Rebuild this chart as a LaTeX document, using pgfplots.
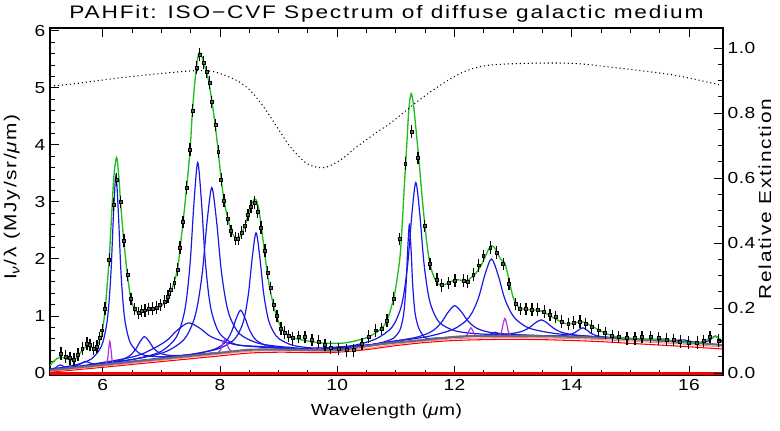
\documentclass[border=0pt]{standalone}
\usepackage{pgfplots}
\pgfplotsset{compat=1.18}
\usepackage{fontspec}
\setmainfont{Liberation Sans}[FakeStretch=1.2,LetterSpace=3]
\newfontfamily\titlefont{Liberation Sans}[FakeStretch=1.25,LetterSpace=10]
\newfontfamily\labfont{Liberation Sans}[FakeStretch=1.2,LetterSpace=10]
\definecolor{pblue}{RGB}{25,25,230}
\definecolor{pgreen}{RGB}{30,190,30}
\definecolor{ppurple}{RGB}{175,50,230}
\definecolor{pgray}{RGB}{105,105,125}
\begin{document}
\begin{tikzpicture}
\pgfplotsset{
  idl/.style={
    scale only axis, width=504.75pt, height=260.25pt,
    at={(0,0)}, anchor=south west,
    xmin=5.1, xmax=16.58,
    tick align=inside,
    major tick length=7pt, minor tick length=3.5pt,
    axis line style={line width=0.8pt}, every tick/.style={line width=0.7pt, black},
    /pgf/number format/assume math mode=true,
    tick label style={font=\fontsize{12}{14}\selectfont},
    label style={font=\fontsize{12}{14}\selectfont},
  }
}
\begin{axis}[idl,
  ymin=-0.035, ymax=6.05,
  xtick={6,8,10,12,14,16}, minor x tick num=3,
  ytick={0,1,2,3,4,5,6}, minor y tick num=4,
  xtick pos=both, ytick pos=left,
  xlabel={Wavelength (\textit{μ}m)},
  xlabel style={at={(axis description cs:0.5,-0.105)}, anchor=center},
  ylabel={\labfont\fontsize{13}{15}\selectfont I\raisebox{-0.35ex}{\fontsize{9.5}{10}\selectfont\textit{ν}}/λ (MJy/sr/\textit{μ}m)},
  ylabel style={at={(axis description cs:-0.0565,0.512)}, anchor=center},
  title={\titlefont\fontsize{13.6}{16}\selectfont PAHFit: ISO−CVF Spectrum of diffuse galactic medium},
  every axis title/.style={at={(axis description cs:0.5,1.04)}, anchor=center},
  clip=true,
]
% bottom thick red line
\addplot[red, line width=2.2pt] coordinates {(5.1,-0.012)(16.58,-0.012)};
% red continuum components
\addplot[red, line width=0.8pt, smooth] coordinates {(5.1,0.015)(6,0.10)(7,0.20)(8,0.30)(8.5,0.35)(9,0.365)(9.5,0.36)(10,0.365)(10.5,0.41)(11,0.48)(11.5,0.535)(12,0.57)(12.5,0.585)(13,0.59)(13.5,0.585)(14,0.57)(14.5,0.55)(15,0.52)(15.5,0.49)(16,0.46)(16.58,0.42)};
\addplot[red!45, line width=0.8pt, smooth] coordinates {(5.1,0.03)(6,0.12)(7,0.225)(8,0.33)(8.5,0.38)(9,0.39)(9.5,0.385)(10,0.385)(10.5,0.43)(11,0.505)(11.5,0.56)(12,0.60)(12.5,0.615)(13,0.62)(14,0.605)(15,0.56)(16,0.50)(16.58,0.455)};
% blue features
\addplot[pblue, line width=0.9pt, smooth] coordinates {(5.1,0.062)(5.16,0.080)(5.2,0.0934)(5.235,0.1258)(5.27,0.1429)(5.305,0.1331)(5.34,0.1081)(5.38,0.1032)(5.45,0.0979)(5.6,0.1062)};
\addplot[pblue, line width=0.9pt, smooth] coordinates {(5.2,0.064)(5.4,0.0905)(5.5,0.110)(5.6,0.1475)(5.65,0.1798)(5.7,0.203)(5.75,0.1903)(5.8,0.1685)(5.9,0.152)(6.0,0.1535)(6.2,0.169)};
\addplot[pblue, line width=0.9pt, smooth] coordinates {(5.1,0.068)(5.235,0.087)(5.565,0.150)(5.8125,0.252)(5.9775,0.472)(6.06,0.811)(6.101,1.170)(6.1425,1.809)(6.184,2.804)(6.225,3.468)(6.266,2.812)(6.3075,1.827)(6.349,1.196)(6.39,0.845)(6.4725,0.524)(6.6375,0.338)(6.885,0.288)(7.215,0.295)(7.875,0.349)};
\addplot[pblue, line width=0.9pt, smooth] coordinates {(5.51,0.0995)(5.96,0.156)(6.26,0.214)(6.41,0.2716)(6.485,0.3244)(6.56,0.4133)(6.635,0.547)(6.71,0.639)(6.785,0.563)(6.86,0.445)(6.935,0.3717)(7.01,0.3346)(7.16,0.3083)(7.46,0.314)(7.91,0.3515)};
\addplot[pblue, line width=0.9pt, smooth] coordinates {(5.46,0.0967)(6.26,0.2298)(6.66,0.3298)(7.06,0.5458)(7.26,0.7408)(7.46,0.8778)(7.66,0.7828)(7.86,0.6298)(8.26,0.4978)(8.66,0.466)(9.46,0.4277)(10.66,0.502)};
\addplot[pblue, line width=0.9pt, smooth] coordinates {(5.12,0.060)(6.12,0.180)(6.62,0.262)(6.995,0.379)(7.245,0.613)(7.37,0.963)(7.4325,1.333)(7.495,1.990)(7.5575,3.008)(7.62,3.690)(7.6825,3.021)(7.745,2.016)(7.8075,1.372)(7.87,1.016)(7.995,0.692)(8.245,0.510)(8.62,0.460)(9.12,0.433)(10.12,0.425)};
\addplot[pblue, line width=0.9pt, smooth] coordinates {(5.94,0.158)(6.58,0.250)(7.06,0.368)(7.38,0.580)(7.54,0.888)(7.62,1.211)(7.70,1.778)(7.78,2.659)(7.86,3.250)(7.94,2.676)(8.02,1.812)(8.10,1.261)(8.18,0.955)(8.34,0.681)(8.66,0.520)(9.14,0.454)(9.78,0.422)(11.06,0.547)};
\addplot[pblue, line width=0.9pt, smooth] coordinates {(6.55,0.207)(7.15,0.276)(7.60,0.340)(7.90,0.415)(8.05,0.502)(8.125,0.586)(8.20,0.7305)(8.275,0.951)(8.35,1.101)(8.425,0.967)(8.50,0.762)(8.575,0.626)(8.65,0.550)(8.80,0.480)(9.10,0.436)(9.55,0.416)};
\addplot[pblue, line width=0.9pt, smooth] coordinates {(6.115,0.162)(7.115,0.276)(7.615,0.346)(7.99,0.432)(8.24,0.585)(8.365,0.803)(8.4275,1.030)(8.49,1.431)(8.5525,2.048)(8.615,2.458)(8.6775,2.048)(8.74,1.434)(8.8025,1.040)(8.865,0.819)(8.99,0.615)(9.24,0.487)(9.615,0.436)(10.115,0.430)(11.115,0.550)};
\addplot[pblue, line width=0.9pt, smooth] coordinates {(10.13,0.423)(10.57,0.495)(10.79,0.543)(10.955,0.6085)(11.065,0.7446)(11.12,0.9539)(11.1475,1.1766)(11.175,1.5712)(11.2025,2.1858)(11.23,2.5965)(11.2575,2.191)(11.285,1.5818)(11.3125,1.1924)(11.34,0.975)(11.395,0.7763)(11.505,0.6143)(11.67,0.6128)(11.89,0.6249)(12.33,0.6477)};
\addplot[pblue, line width=0.9pt, smooth] coordinates {(8.64,0.415)(9.72,0.4213)(10.26,0.4794)(10.665,0.6006)(10.935,0.8055)(11.07,1.0957)(11.1375,1.4006)(11.205,1.9406)(11.2725,2.7786)(11.34,3.340)(11.4075,2.7915)(11.475,1.9665)(11.5425,1.4395)(11.61,1.1476)(11.745,0.8832)(12.015,0.7385)(12.42,0.6863)(12.96,0.6687)(14.04,0.6403)};
\addplot[pblue, line width=0.9pt, smooth] coordinates {(10.2,0.4365)(10.875,0.5436)(11.325,0.6206)(11.55,0.6972)(11.6625,0.7674)(11.775,0.8838)(11.8875,1.0596)(12.0,1.1804)(12.1125,1.0801)(12.225,0.9166)(12.3375,0.812)(12.45,0.7539)(12.675,0.7014)(13.125,0.6693)(13.8,0.6465)};
\addplot[pblue, line width=0.9pt, smooth] coordinates {(9.99,0.4093)(10.87,0.5421)(11.53,0.6374)(11.97,0.7629)(12.19,0.9118)(12.30,1.059)(12.41,1.3204)(12.52,1.7277)(12.63,1.9999)(12.74,1.7301)(12.85,1.3253)(12.96,1.0664)(13.07,0.9198)(13.29,0.7811)(13.73,0.6912)(14.39,0.6402)(15.27,0.5881)};
\addplot[pblue, line width=0.9pt, smooth] coordinates {(12.45,0.650)(12.55,0.661)(12.6,0.674)(12.65,0.7005)(12.69,0.7165)(12.73,0.7015)(12.78,0.676)(12.83,0.6636)(12.93,0.6555)};
\addplot[pblue, line width=0.9pt, smooth] coordinates {(11.8,0.6157)(12.43,0.6549)(12.85,0.6773)(13.06,0.7071)(13.165,0.7368)(13.27,0.791)(13.375,0.8764)(13.48,0.9328)(13.585,0.8732)(13.69,0.7847)(13.795,0.7274)(13.9,0.6945)(14.11,0.6596)(14.53,0.6250)(15.16,0.5899)};
\addplot[pblue, line width=0.9pt, smooth] coordinates {(13.19,0.6497)(13.565,0.6478)(13.815,0.6543)(13.94,0.6689)(14.0025,0.6857)(14.065,0.7149)(14.1275,0.7619)(14.19,0.7924)(14.2525,0.7569)(14.315,0.7049)(14.3775,0.6707)(14.44,0.6504)(14.565,0.6289)(14.815,0.6087)(15.19,0.5861)};
\addplot[pblue, line width=0.9pt, smooth] coordinates {(15.4,0.573)(15.6,0.567)(15.75,0.570)(15.85,0.580)(15.9,0.581)(15.95,0.574)(16.05,0.551)(16.25,0.522)};
\addplot[pblue, line width=0.9pt, smooth] coordinates {(15.55,0.5635)(16.0,0.5408)(16.18,0.536)(16.27,0.544)(16.315,0.5567)(16.36,0.582)(16.405,0.6235)(16.45,0.65)(16.495,0.6166)(16.54,0.5681)(16.58,0.5288)};
% purple lines
\addplot[ppurple, line width=0.9pt, smooth] coordinates {(6.05,0.1515)(6.08,0.218)(6.10,0.409)(6.12,0.557)(6.14,0.413)(6.16,0.226)(6.19,0.166)};
\addplot[ppurple, line width=0.9pt, smooth] coordinates {(7.92,0.346)(7.97,0.3585)(8.01,0.4105)(8.045,0.5147)(8.08,0.583)(8.115,0.5221)(8.15,0.425)(8.19,0.3815)(8.24,0.3797)};
\addplot[ppurple, line width=0.9pt, smooth] coordinates {(9.56,0.406)(9.6,0.42)(9.66,0.4534)(9.72,0.419)(9.76,0.404)};
\addplot[ppurple, line width=0.9pt, smooth] coordinates {(12.18,0.6434)(12.22,0.6758)(12.25,0.7457)(12.28,0.792)(12.31,0.7463)(12.34,0.6772)(12.38,0.6456)};
\addplot[ppurple, line width=0.9pt, smooth] coordinates {(12.76,0.6526)(12.80,0.7191)(12.83,0.8631)(12.86,0.9584)(12.89,0.8638)(12.92,0.7204)(12.96,0.6549)};
\addplot[ppurple, line width=0.9pt, smooth] coordinates {(15.4,0.5713)(15.48,0.5775)(15.55,0.592)(15.62,0.5691)(15.7,0.553)};
% total continuum
\addplot[pgray, line width=1.6pt, smooth] coordinates {(5.1,0.05)(6,0.1445)(7,0.2495)(8,0.3545)(8.5,0.407)(9,0.41)(9.5,0.405)(10,0.40)(10.4,0.456)(10.85,0.52)(11.5,0.582)(12.1,0.64)(12.6,0.648)(13,0.65)(14,0.635)(15,0.595)(16,0.535)(16.58,0.49)};
% total fit
\addplot[pgreen, line width=1pt, smooth, tension=0.5] coordinates {(5.10,0.13)(5.18,0.22)(5.27,0.28)(5.37,0.25)(5.45,0.23)(5.52,0.24)(5.58,0.30)(5.65,0.40)(5.72,0.47)(5.78,0.46)(5.85,0.44)(5.90,0.47)(5.95,0.58)(5.99,0.72)(6.04,1.10)(6.08,1.60)(6.11,2.00)(6.15,2.75)(6.19,3.45)(6.235,3.78)(6.27,3.50)(6.30,3.05)(6.33,2.65)(6.36,2.30)(6.42,1.72)(6.48,1.30)(6.54,1.12)(6.60,1.06)(6.70,1.08)(6.80,1.10)(6.90,1.13)(7.00,1.18)(7.10,1.30)(7.16,1.43)(7.22,1.60)(7.28,1.85)(7.32,2.20)(7.37,2.65)(7.43,3.25)(7.49,3.92)(7.53,4.60)(7.58,5.20)(7.62,5.52)(7.65,5.62)(7.69,5.55)(7.74,5.38)(7.80,5.15)(7.86,4.78)(7.92,4.33)(7.97,3.88)(8.02,3.40)(8.07,3.02)(8.13,2.72)(8.19,2.50)(8.25,2.38)(8.31,2.36)(8.37,2.45)(8.43,2.60)(8.48,2.78)(8.53,2.93)(8.58,3.04)(8.62,3.03)(8.66,2.88)(8.70,2.60)(8.75,2.20)(8.80,1.80)(8.85,1.48)(8.91,1.20)(8.97,0.98)(9.04,0.80)(9.10,0.72)(9.17,0.66)(9.24,0.62)(9.35,0.59)(9.50,0.56)(9.70,0.53)(9.90,0.52)(10.10,0.525)(10.30,0.56)(10.50,0.62)(10.65,0.70)(10.75,0.78)(10.85,0.92)(10.96,1.30)(11.02,1.65)(11.08,2.15)(11.14,3.20)(11.18,3.90)(11.22,4.60)(11.26,4.90)(11.30,4.70)(11.35,4.20)(11.40,3.65)(11.46,2.95)(11.52,2.35)(11.58,1.92)(11.65,1.68)(11.72,1.56)(11.80,1.54)(11.90,1.58)(12.00,1.63)(12.10,1.63)(12.18,1.59)(12.28,1.67)(12.35,1.73)(12.45,1.88)(12.55,2.10)(12.62,2.23)(12.68,2.20)(12.74,2.08)(12.80,1.98)(12.86,1.92)(12.92,1.68)(13.00,1.33)(13.08,1.17)(13.18,1.12)(13.30,1.11)(13.42,1.10)(13.52,1.07)(13.62,1.01)(13.72,0.95)(13.85,0.88)(13.95,0.86)(14.05,0.88)(14.18,0.90)(14.28,0.86)(14.40,0.79)(14.55,0.71)(14.70,0.65)(14.85,0.62)(15.00,0.61)(15.20,0.60)(15.40,0.59)(15.55,0.60)(15.65,0.58)(15.80,0.55)(16.00,0.53)(16.20,0.54)(16.35,0.60)(16.45,0.64)(16.52,0.60)(16.58,0.55)};
% data with error bars
\addplot[black, only marks, mark=square*, mark size=1.1pt, mark options={fill=black!65, draw=black, line width=0.4pt},
  error bars/.cd, y dir=both, y fixed=0.055,
  error bar style={line width=0.9pt, black},
  error mark options={mark size=2.4pt, line width=1pt, black}]
coordinates {(5.29,0.345)(5.37,0.29)(5.44,0.26)(5.51,0.24)(5.58,0.32)(5.65,0.43)(5.73,0.52)(5.78,0.49)(5.84,0.43)(5.90,0.46)(5.95,0.61)(5.99,0.75)(6.04,1.13)(6.11,1.99)(6.18,2.95)(6.24,3.39)(6.30,3.00)(6.36,2.32)(6.42,1.72)(6.48,1.30)(6.54,1.12)(6.61,1.05)(6.66,1.09)(6.72,1.10)(6.78,1.12)(6.85,1.13)(6.92,1.15)(6.98,1.19)(7.05,1.25)(7.11,1.34)(7.16,1.46)(7.22,1.58)(7.28,1.81)(7.32,2.20)(7.37,2.65)(7.43,3.25)(7.49,3.92)(7.53,4.60)(7.60,5.36)(7.65,5.58)(7.72,5.44)(7.77,5.28)(7.82,5.09)(7.86,4.75)(7.92,4.35)(7.97,3.88)(8.02,3.39)(8.07,3.02)(8.13,2.71)(8.19,2.49)(8.26,2.36)(8.31,2.35)(8.37,2.46)(8.43,2.58)(8.48,2.77)(8.53,2.92)(8.59,2.99)(8.64,2.83)(8.70,2.55)(8.77,2.15)(8.81,1.76)(8.86,1.49)(8.91,1.19)(8.97,1.00)(9.04,0.78)(9.10,0.71)(9.17,0.65)(9.24,0.61)(9.34,0.63)(9.45,0.63)(9.57,0.58)(9.68,0.55)(9.79,0.49)(9.89,0.45)(10.02,0.42)(10.16,0.40)(10.28,0.40)(10.42,0.51)(10.53,0.64)(10.65,0.75)(10.76,0.77)(10.85,0.92)(10.96,1.31)(11.06,2.35)(11.16,3.67)(11.27,4.23)(11.38,3.77)(11.49,2.58)(11.58,1.91)(11.70,1.64)(11.78,1.54)(11.90,1.58)(12.01,1.62)(12.15,1.62)(12.22,1.60)(12.32,1.73)(12.41,1.89)(12.49,2.05)(12.61,2.20)(12.72,2.11)(12.83,1.91)(12.93,1.56)(13.04,1.21)(13.12,1.12)(13.22,1.12)(13.32,1.11)(13.42,1.11)(13.53,1.08)(13.63,1.02)(13.72,0.98)(13.83,0.90)(13.94,0.86)(14.03,0.88)(14.14,0.90)(14.24,0.86)(14.34,0.81)(14.46,0.75)(14.57,0.70)(14.69,0.65)(14.80,0.63)(14.94,0.61)(15.08,0.61)(15.20,0.63)(15.34,0.63)(15.48,0.61)(15.62,0.59)(15.74,0.58)(15.85,0.55)(15.99,0.53)(16.14,0.53)(16.25,0.56)(16.36,0.63)(16.50,0.57)};
\end{axis}
\begin{axis}[idl,
  ymin=-0.006, ymax=1.062,
  hide x axis,
  axis y line*=right,
  ytick={0,0.2,0.4,0.6,0.8,1.0}, minor y tick num=3,
  yticklabel style={/pgf/number format/fixed, /pgf/number format/fixed zerofill, /pgf/number format/precision=1},
  ylabel={\labfont\fontsize{13}{15}\selectfont Relative Extinction},
  ylabel style={at={(axis description cs:1.0624,0.507)}, anchor=center},
]
\addplot[black, line width=0.8pt, dash pattern=on 0.8pt off 2.2pt, smooth] coordinates {(5.1,0.883)(5.5,0.89)(6.0,0.902)(6.5,0.913)(7.0,0.922)(7.5,0.93)(7.8,0.93)(8.0,0.922)(8.29,0.90)(8.51,0.871)(8.74,0.82)(8.97,0.758)(9.20,0.696)(9.48,0.645)(9.76,0.632)(10.05,0.655)(10.33,0.696)(10.73,0.748)(10.9,0.768)(11.47,0.85)(12.04,0.917)(12.49,0.945)(13.18,0.953)(14.03,0.953)(14.88,0.937)(15.74,0.917)(16.58,0.885)};
\end{axis}
\pgfresetboundingbox
\path (-37.5pt,-41.25pt) rectangle (547.5pt,281.25pt);
\end{tikzpicture}
\end{document}
